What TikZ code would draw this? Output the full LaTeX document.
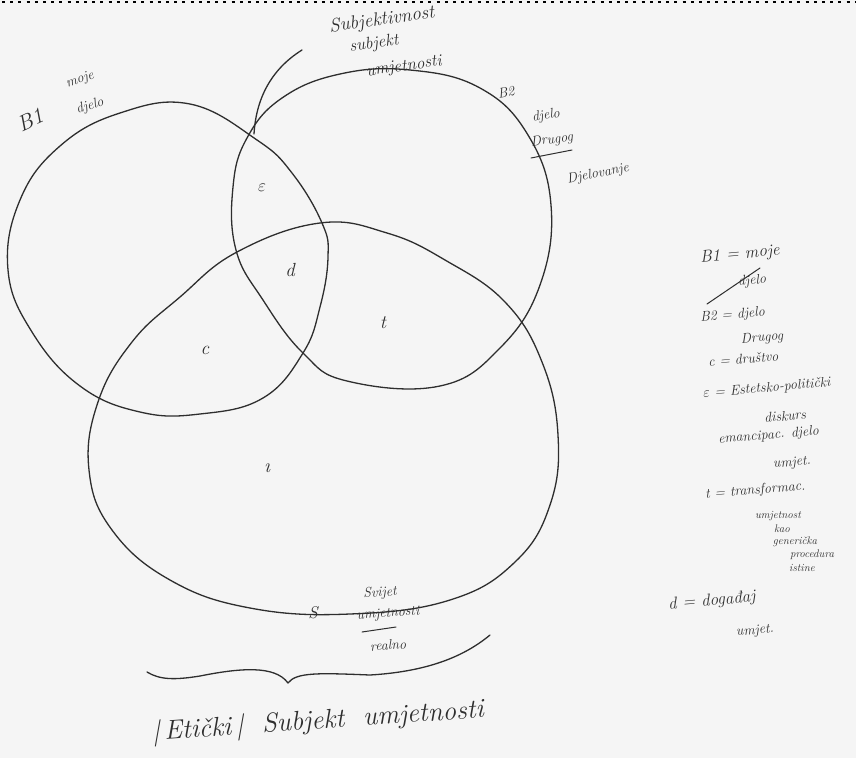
\documentclass[tikz,border=0pt]{standalone}
\usetikzlibrary{calc}
\definecolor{inkc}{HTML}{2E2E2E}
\definecolor{paper}{HTML}{F5F5F5}
\begin{document}
\begin{tikzpicture}[x=1pt,y=-1pt,
  curve/.style={draw=inkc, line width=1.3pt, line cap=round, line join=round},
  hwl/.style={font=\itshape\fontsize{17}{19}\selectfont, text=inkc, inner sep=0pt},
  hw/.style={font=\itshape\fontsize{14}{16}\selectfont, text=inkc, inner sep=0pt},
  hws/.style={font=\itshape\fontsize{11}{12}\selectfont, text=inkc, inner sep=0pt},
  region/.style={font=\itshape\fontsize{19}{21}\selectfont, text=inkc, inner sep=0pt}]
\useasboundingbox (0,0) rectangle (856,758);
\fill[paper] (0,0) rectangle (856,758);
\draw[black, line width=2pt, dash pattern=on 3pt off 5.2pt] (2,2) -- (856,2);

% circles
\draw[curve] plot[smooth cycle, tension=0.7] coordinates {
 (190,104) (257,140) (292,173) (322,223) (328,257) (320,307) (303,353) (263,398)
 (200,414) (140,412) (80,386) (32,332) (8,270) (20,200) (60,146) (120,113)};
\draw[curve] plot[smooth cycle, tension=0.7] coordinates {
 (410,70) (480,88) (528,135) (551,205) (540,285) (500,348) (440,386) (347,381)
 (303,353) (263,300) (236,250) (233,187) (247,138) (282,98) (340,74)};
\draw[curve] plot[smooth cycle, tension=0.7] coordinates {
 (320,223) (387,233) (445,260) (505,302) (542,362) (558,435) (550,505) (515,562)
 (450,600) (350,614) (250,608) (170,580) (112,530) (89,470) (98,402) (132,342)
 (180,297) (237,252)};

% region labels
\node[region] (eps) at (262,188) {$\varepsilon$};
\node[region] (d) at (290,270) {d};
\node[region] (c) at (205,350) {c};
\node[region] (t) at (383,323) {t};
\node[font=\itshape\fontsize{20}{20}\selectfont, text=inkc, inner sep=0pt] (one) at (267,468) {ı};

% top label and connector
\node[font=\itshape\fontsize{19}{21}\selectfont, text=inkc, inner sep=0pt, rotate=8] (sub1) at (382,20) {Subjektivnost};
\node[hwl, rotate=8] (sub2) at (374,44) {subjekt};
\node[hwl, rotate=8] (sub3) at (404,67) {umjetnosti};
\coordinate (tailstart) at (302,50);
\coordinate (tip) at (254,134);
\draw[curve] (tailstart) .. controls (270,70) and (256,100) .. (tip);

% B1 label
\node[font=\itshape\fontsize{22}{24}\selectfont, text=inkc, inner sep=0pt, rotate=25] (b1a) at (30,120) {B1};
\node[hw, rotate=18] (b1b) at (80,80) {moje};
\node[hw, rotate=18] (b1c) at (90,106) {djelo};

% B2 label
\node[hw, rotate=10] (b2a) at (506,92) {B2};
\node[hw, rotate=10] (b2b) at (546,116) {djelo};
\node[hw, rotate=8] (b2c) at (552,140) {Drugog};
\draw[curve, line width=1pt] (531,158) -- (572,150);
\node[hw, rotate=12] (b2d) at (598,174) {Djelovanje};

% legend
\node[hwl, rotate=5, anchor=west] (l1) at (700,258) {B1 = moje};
\node[hw, rotate=5] (l1b) at (752,281) {djelo};
\coordinate (sl1) at (707,304);
\coordinate (sl2) at (760,268);
\draw[curve, line width=1pt] (sl1) -- (sl2);
\node[hw, rotate=5, anchor=west] (l2) at (700,318) {B2 = djelo};
\node[hw, rotate=5] (l2b) at (762,338) {Drugog};
\node[hw, rotate=5, anchor=west] (l3) at (708,362) {c = društvo};
\node[hw, rotate=5, anchor=west] (l4) at (703,394) {$\varepsilon$ = Estetsko-politički};
\node[hw, rotate=5] (l4b) at (785,416) {diskurs};
\node[hw, rotate=5, anchor=west] (l5) at (718,440) {emancipac. djelo};
\node[hw, rotate=5] (l5b) at (792,463) {umjet.};
\node[hw, rotate=5, anchor=west] (l6) at (705,495) {t = transformac.};
\node[hws] (l6b) at (778,516) {umjetnost};
\node[hws] (l6c) at (782,529) {kao};
\node[hws] (l6d) at (795,542) {generička};
\node[hws] (l6e) at (812,555) {procedura};
\node[hws] (l6f) at (802,568) {istine};
\node[hwl, rotate=5, anchor=west] (l7) at (668,605) {d = događaj};
\node[hw, rotate=5] (l7b) at (755,631) {umjet.};

% S label
\node[hwl] (S) at (313,613) {S};
\node[hw, rotate=4] (s1) at (380,593) {Svijet};
\node[hw, rotate=4] (s2) at (388,614) {umjetnosti};
\draw[curve, line width=1pt] (362,632) -- (396,627);
\node[hw, rotate=4] (s3) at (388,645) {realno};

% brace
\coordinate (brL) at (147,672);
\coordinate (brM) at (288,683);
\coordinate (brR) at (490,635);
\draw[curve] (brL) .. controls (160,680) and (175,680) .. (200,676)
  .. controls (240,668) and (275,665) .. (brM)
  .. controls (296,672) and (320,673) .. (370,675)
  .. controls (420,672) and (460,660) .. (brR);

% bottom text
\node[font=\itshape\fontsize{27}{29}\selectfont, text=inkc, inner sep=0pt, rotate=4] (bot)
  at (318,722) {|\,Etički\,|\ \ Subjekt\ \ umjetnosti};
\end{tikzpicture}
\end{document}
